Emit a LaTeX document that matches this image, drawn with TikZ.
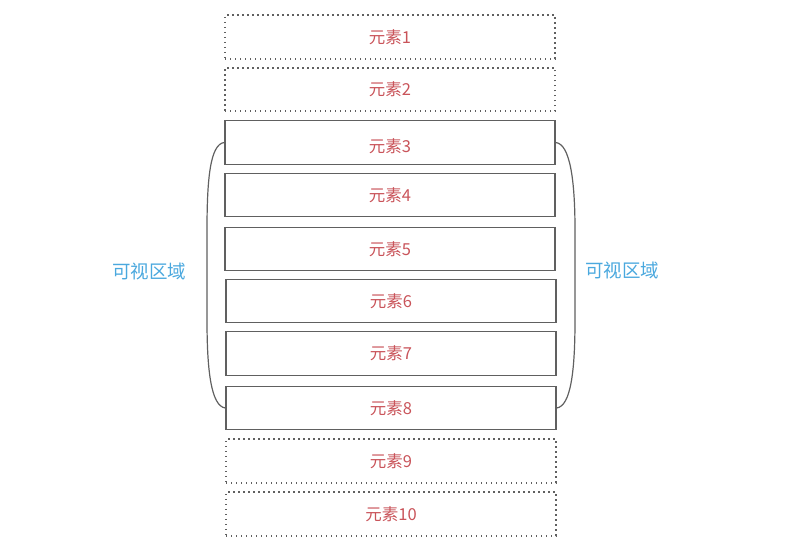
\documentclass[tikz,border=0pt]{standalone}
\usepackage{fontspec}
\newfontfamily\cjk{Noto Sans CJK SC}
\definecolor{boxred}{HTML}{C9545A}
\definecolor{labblue}{HTML}{4AA8DE}
\definecolor{edge}{HTML}{606060}
\tikzset{
  elemtext/.style={text=boxred, font=\cjk\fontsize{16.5}{16.5}\selectfont},
  elem/.style={elemtext, minimum width=330pt, minimum height=43.5pt, inner sep=0pt},
  solidbox/.style={elem, draw=edge, line width=1.4pt},
  dotbox/.style={elem, draw=edge, line width=1.6pt, dash pattern=on 1.4pt off 3.6pt},
  bracket/.style={draw=edge, line width=1.2pt},
  lab/.style={text=labblue, font=\cjk\fontsize{18.5}{18.5}\selectfont}
}
\begin{document}
\begin{tikzpicture}[x=1pt,y=-1pt]
\useasboundingbox (0,0) rectangle (790,550);
\node[dotbox] (b1) at (390,37) {元素1};
\node[dotbox] (b2) at (390,89.5) {元素2};
\node[solidbox, label={[elemtext, yshift=-4pt]center:元素3}] (b3) at (390,142.5) {};
\node[solidbox] (b4) at (390,195) {元素4};
\node[solidbox] (b5) at (390,249) {元素5};
\node[solidbox] (b6) at (391,301) {元素6};
\node[solidbox] (b7) at (391,353.5) {元素7};
\node[solidbox] (b8) at (391,408) {元素8};
\node[dotbox] (b9) at (391,461) {元素9};
\node[dotbox] (b10) at (391,514) {元素10};
\draw[bracket] (b3.west) .. controls (210,144) and (207,180) .. (207,230) -- (207,320) .. controls (207,370) and (211,406) .. (b8.west);
\draw[bracket] (b3.east) .. controls (570,144) and (575,180) .. (575,230) -- (575,320) .. controls (575,370) and (571,406) .. (b8.east);
\node[lab] (l1) at (149,271) {可视区域};
\node[lab] (l2) at (622,270) {可视区域};
\end{tikzpicture}
\end{document}
